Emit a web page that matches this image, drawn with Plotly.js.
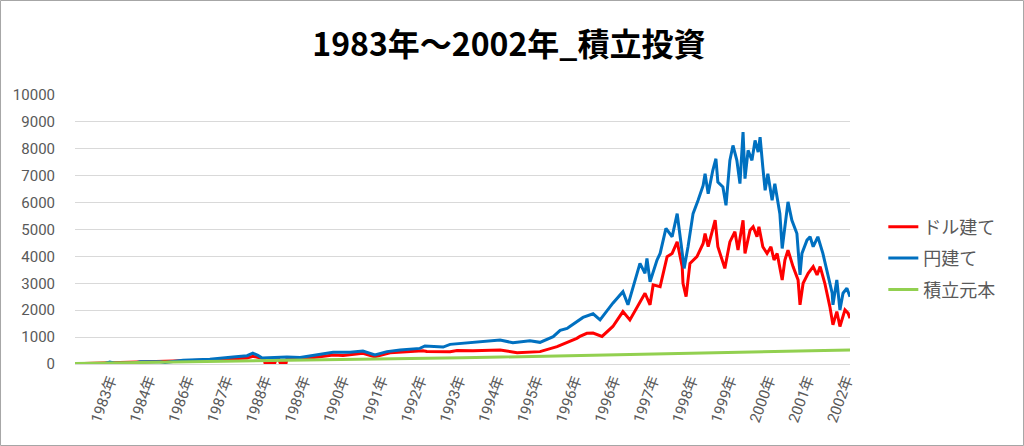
<!DOCTYPE html>
<html>
<head>
<meta charset="utf-8">
<script src="https://cdn.plot.ly/plotly-3.0.1.min.js"></script>
<style>
html,body{margin:0;padding:0;background:#fff;}
#chart{width:1024px;height:446px;}
</style>
</head>
<body>
<div id="chart"></div>
<script>
// ドル建て (dollar-based), decimal year / value
const dollarX = [1983.00,1985.79,1986.48,1987.08,1987.44,1987.59,1987.72,1987.83,1987.88,1987.90,1988.16,1988.19,1988.26,1988.29,1988.45,1988.47,1988.81,1989.32,1989.66,1989.92,1990.35,1990.43,1990.69,1990.74,1991.13,1991.39,1991.98,1992.08,1992.68,1992.86,1993.27,1993.97,1994.41,1995.00,1995.44,1995.95,1996.03,1996.21,1996.37,1996.60,1996.88,1997.14,1997.32,1997.71,1997.84,1997.92,1998.10,1998.28,1998.41,1998.54,1998.67,1998.69,1998.77,1998.87,1999.05,1999.21,1999.26,1999.34,1999.52,1999.59,1999.77,1999.90,2000.03,2000.11,2000.24,2000.29,2000.42,2000.50,2000.60,2000.65,2000.75,2000.86,2000.96,2001.04,2001.12,2001.25,2001.32,2001.40,2001.53,2001.66,2001.71,2001.79,2001.92,2002.05,2002.15,2002.23,2002.35,2002.48,2002.56,2002.66,2002.74,2002.87,2002.95,2003.00];
const dollarVal = [10,110,150,195,220,290,250,200,190,60,60,180,180,60,60,190,180,270,335,320,370,400,285,270,420,440,495,465,460,500,495,520,420,460,645,955,1025,1140,1150,1025,1395,1950,1640,2630,2200,2940,2875,3990,4110,4540,3620,3000,2505,3740,3990,4480,4850,4360,5345,4360,3555,4540,4915,4235,5345,4110,4975,5100,4730,5100,4360,4110,4360,3865,4110,3125,3865,4235,3620,3125,2200,3000,3370,3620,3310,3620,3000,2135,1455,1950,1395,2010,1890,1700];

// 円建て (yen-based)
const yenX = [1983.00,1983.77,1983.90,1984.03,1984.55,1984.68,1985.19,1985.32,1985.79,1986.48,1987.08,1987.44,1987.59,1987.72,1987.83,1988.47,1988.81,1989.32,1989.66,1990.10,1990.43,1990.74,1991.05,1991.39,1991.90,1992.03,1992.50,1992.68,1993.27,1993.97,1994.30,1994.74,1995.00,1995.34,1995.52,1995.70,1995.77,1996.11,1996.37,1996.55,1996.88,1997.14,1997.27,1997.58,1997.71,1997.76,1997.84,1998.02,1998.10,1998.25,1998.41,1998.54,1998.64,1998.72,1998.82,1998.95,1999.08,1999.21,1999.26,1999.34,1999.46,1999.54,1999.59,1999.72,1999.80,1999.90,1999.98,2000.08,2000.16,2000.24,2000.29,2000.37,2000.47,2000.55,2000.63,2000.68,2000.75,2000.81,2000.88,2000.99,2001.06,2001.19,2001.25,2001.32,2001.40,2001.50,2001.63,2001.71,2001.76,2001.89,2001.97,2002.05,2002.17,2002.30,2002.43,2002.54,2002.56,2002.66,2002.74,2002.82,2002.92,2003.00];
const yenVal = [10,20,70,30,40,80,80,60,140,180,260,310,400,320,220,260,240,370,435,440,480,335,460,520,580,670,630,730,805,890,790,865,805,1015,1250,1325,1395,1730,1865,1640,2260,2690,2200,3740,3370,3925,3060,3865,4110,5040,4730,5590,4480,3555,4360,5590,6090,6640,7075,6330,7200,7630,6765,6580,5900,7570,8125,7570,6705,8620,6890,7940,7570,8310,7875,8430,7320,6455,7075,6085,6705,5590,4295,5220,6025,5345,4850,3310,4110,4605,4730,4360,4730,4110,3370,2630,2200,3125,2010,2630,2815,2500];

// 積立元本 (principal)
const principalX = [1983,1984,1985,1986,1987,1988,1989,1990,1991,1992,1993,1994,1995,1996,1997,1998,1999,2000,2001,2002,2003];
const principalVal = [20,39,58,77,96,115,135,160,185,210,235,260,285,313,342,371,400,429,458,488,520];

// x-axis tick labels and their positions (decimal year)
const tickPos = [1983.9,1984.9,1985.9,1986.9,1987.9,1988.9,1989.9,1990.9,1991.9,1992.9,1993.9,1994.9,1995.9,1996.9,1997.9,1998.9,1999.9,2000.9,2001.9,2002.9];
const tickLabels = ['1983年','1984年','1986年','1987年','1988年','1989年','1990年','1991年','1992年','1993年','1994年','1995年','1996年','1996年','1997年','1998年','1999年','2000年','2001年','2002年'];

const seriesNames = ['ドル建て','円建て','積立元本'];
const FONT = 'Roboto, "Noto Sans CJK JP", sans-serif';

const traces = [
  {x: dollarX, y: dollarVal, name: seriesNames[0], type: 'scatter', mode: 'lines',
   line: {color: '#ff0000', width: 3}, legendgroup: 'a'},
  {x: yenX, y: yenVal, name: seriesNames[1], type: 'scatter', mode: 'lines',
   line: {color: '#0070c0', width: 3}, legendgroup: 'b'},
  {x: principalX, y: principalVal, name: seriesNames[2], type: 'scatter', mode: 'lines',
   line: {color: '#92d050', width: 3}, legendgroup: 'c'}
];

const layout = {
  width: 1024, height: 446,
  margin: {l: 75, r: 174, t: 95, b: 82},
  paper_bgcolor: '#ffffff', plot_bgcolor: '#ffffff',
  font: {family: FONT, color: '#595959', size: 15},
  title: {text: '1983年～2002年_積立投資', x: 0.497, xanchor: 'center', y: 0.9, yanchor: 'middle',
          font: {family: '"Noto Sans CJK JP", sans-serif', size: 32, color: '#000000', weight: 'bold'}},
  xaxis: {range: [1983, 2003], tickmode: 'array', tickvals: tickPos, ticktext: tickLabels,
          tickangle: -70, showgrid: false, zeroline: false, showline: true, linecolor: '#d9d9d9', linewidth: 1,
          ticks: '', tickfont: {family: FONT, size: 15, color: '#595959'}},
  yaxis: {range: [0, 10000], dtick: 1000, tick0: 0, tickformat: 'd', showgrid: true, gridcolor: '#d9d9d9', gridwidth: 1,
          zeroline: false, showline: false, ticks: 'outside', ticklen: 16, tickcolor: 'rgba(0,0,0,0)',
          tickfont: {family: FONT, size: 15, color: '#595959'}},
  showlegend: true,
  legend: {x: 1.043, xanchor: 'left', y: 0.578, yanchor: 'top', tracegroupgap: 5,
           font: {family: '"Noto Sans CJK JP", sans-serif', size: 18, color: '#595959'},
           bgcolor: 'rgba(0,0,0,0)'},
  shapes: [{type: 'rect', xref: 'paper', yref: 'paper', x0: -0.0961, x1: 1.2239, y0: -0.3030, y1: 1.3513,
            line: {color: '#a6a6a6', width: 1}, fillcolor: 'rgba(0,0,0,0)', layer: 'below'}]
};

Plotly.newPlot('chart', traces, layout, {displayModeBar: false, staticPlot: true});
</script>
</body>
</html>
